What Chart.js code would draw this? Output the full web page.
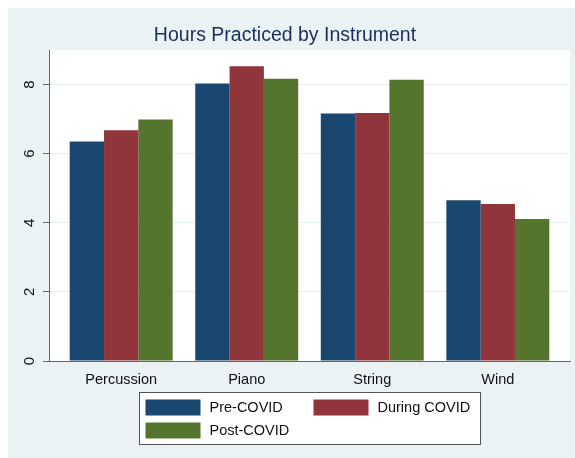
<!DOCTYPE html>
<html>
<head>
<meta charset="utf-8">
<script src="https://cdn.jsdelivr.net/npm/chart.js@4.4.1/dist/chart.umd.min.js"></script>
<style>
  html, body { margin: 0; padding: 0; background: #ffffff; }
  #wrap { width: 575px; height: 458px; }
</style>
</head>
<body>
<div id="wrap"><canvas id="chart_hoursByInstrument"></canvas></div>
<script>
var categories = ['Percussion', 'Piano', 'String', 'Wind'];
var seriesNames = ['Pre-COVID', 'During COVID', 'Post-COVID'];
var preCovid = [6.35, 8.03, 7.16, 4.65];
var duringCovid = [6.68, 8.53, 7.18, 4.54];
var postCovid = [6.99, 8.17, 8.14, 4.11];
var yTicks = [0, 2, 4, 6, 8];

var colors = ['#1a476f', '#90353b', '#55752f'];
var fontFamily = '"Liberation Sans", Arial, Helvetica, sans-serif';

function toPoints(values) {
    return values.map(function (v, i) { return { x: i, y: v }; });
}

// Stata-like background: light frame, white plot region
var backgroundPlugin = {
    id: 'stataBackground',
    beforeDraw: function (chart) {
        var ctx = chart.ctx;
        var a = chart.chartArea;
        ctx.save();
        ctx.fillStyle = '#ffffff';
        ctx.fillRect(0, 0, chart.width, chart.height);
        ctx.fillStyle = '#eaf2f3';
        ctx.fillRect(8, 8, chart.width - 8, chart.height - 8);
        ctx.fillStyle = '#ffffff';
        ctx.fillRect(a.left, a.top, a.right - a.left, a.bottom - a.top);
        ctx.restore();
    }
};

// boxed two-column legend under the axis
var boxLegendPlugin = {
    id: 'boxLegend',
    afterDraw: function (chart) {
        var ctx = chart.ctx;
        var a = chart.chartArea;
        var cx = (a.left + a.right) / 2;
        var boxW = 341, boxH = 52;
        var bx = Math.round(cx - boxW / 2) + 0.5;
        var by = a.bottom + 31.5;
        ctx.save();
        ctx.fillStyle = '#ffffff';
        ctx.fillRect(bx, by, boxW, boxH);
        ctx.strokeStyle = '#555555';
        ctx.lineWidth = 1;
        ctx.strokeRect(bx, by, boxW, boxH);
        ctx.font = '14.5px ' + fontFamily;
        ctx.textBaseline = 'middle';
        ctx.textAlign = 'left';
        var colX = [bx + 6, bx + 174];
        var rowY = [by + 7, by + 30];
        chart.data.datasets.forEach(function (ds, i) {
            var col = i % 2;
            var row = Math.floor(i / 2);
            var sx = colX[col], sy = rowY[row];
            ctx.fillStyle = ds.backgroundColor;
            ctx.fillRect(sx, sy, 55, 16);
            ctx.fillStyle = '#111111';
            ctx.fillText(ds.label, sx + 64, sy + 8.5);
        });
        ctx.restore();
    }
};

var chart_hoursByInstrument = new Chart(document.getElementById('chart_hoursByInstrument'), {
    type: 'bar',
    data: {
        datasets: [
            {
                label: seriesNames[0],
                data: toPoints(preCovid),
                backgroundColor: colors[0],
                borderWidth: 0
            },
            {
                label: seriesNames[1],
                data: toPoints(duringCovid),
                backgroundColor: colors[1],
                borderWidth: 0
            },
            {
                label: seriesNames[2],
                data: toPoints(postCovid),
                backgroundColor: colors[2],
                borderWidth: 0
            }
        ]
    },
    options: {
        animation: false,
        responsive: true,
        maintainAspectRatio: false,
        devicePixelRatio: 1,
        categoryPercentage: 0.82,
        barPercentage: 1.0,
        layout: {
            padding: { left: 0, right: 5, top: 0, bottom: 67 }
        },
        plugins: {
            legend: { display: false },
            tooltip: { enabled: false },
            title: {
                display: true,
                text: 'Hours Practiced by Instrument',
                color: '#1a2e5c',
                font: { family: fontFamily, size: 19.5, weight: 'normal' },
                padding: { top: 24, bottom: 2.6 }
            }
        },
        scales: {
            x: {
                type: 'linear',
                min: -0.575,
                max: 3.575,
                offset: false,
                grid: { display: false, offset: false },
                border: { display: true, color: '#666666', width: 1 },
                ticks: {
                    stepSize: 1,
                    includeBounds: false,
                    autoSkip: false,
                    maxRotation: 0,
                    padding: 2,
                    color: '#111111',
                    font: { family: fontFamily, size: 14.5 },
                    callback: function (value) {
                        return categories[value] !== undefined ? categories[value] : '';
                    }
                },
                afterFit: function (scale) { scale.height = 30; }
            },
            y: {
                min: 0,
                max: 9,
                grid: {
                    color: '#e6eff1',
                    lineWidth: 1,
                    drawTicks: true,
                    tickLength: 6,
                    tickColor: '#666666'
                },
                border: { display: true, color: '#666666', width: 1 },
                ticks: {
                    stepSize: 2,
                    includeBounds: false,
                    minRotation: 90,
                    maxRotation: 90,
                    crossAlign: 'center',
                    padding: 9,
                    color: '#111111',
                    font: { family: fontFamily, size: 15 },
                    callback: function (value) {
                        return yTicks.indexOf(value) >= 0 ? String(value) : '';
                    }
                },
                afterFit: function (scale) { scale.width = 49; }
            }
        }
    },
    plugins: [backgroundPlugin, boxLegendPlugin]
});
</script>
</body>
</html>
